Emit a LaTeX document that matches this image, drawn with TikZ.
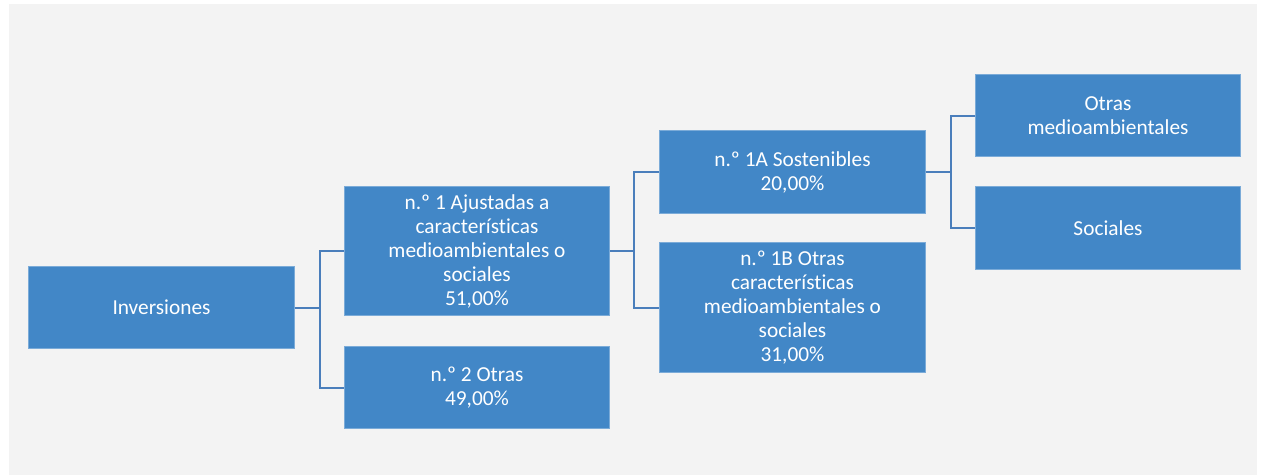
\documentclass[tikz,border=0pt]{standalone}
\usepackage{fontspec}
\setmainfont{Carlito}[Ligatures=NoCommon]

\definecolor{boxblue}{HTML}{4287C7}
\definecolor{lineblue}{HTML}{4A7EBB}
\definecolor{backgray}{HTML}{F3F3F3}

\tikzset{
  catbox/.style={rectangle, fill=boxblue, draw=boxblue!70!white, line width=0.6pt,
    text=white, align=center, font=\fontsize{16}{18}\selectfont,
    inner sep=0pt, minimum width=199pt},
  shortbox/.style={catbox, minimum height=62pt},
  tallbox/.style={catbox, minimum height=97pt},
  branch/.style={draw=lineblue, line width=1.5pt}
}

\begin{document}
\begin{tikzpicture}[x=0.75pt, y=-0.75pt]
  % Background
  \useasboundingbox (0,0) rectangle (1261,475);
  \fill[backgray] (9,4) rectangle (1257,475);

  % Boxes
  \node[shortbox] (inv) at (161.5,307.5) {Inversiones};
  \node[tallbox] (adj) at (477,251) {n.º 1 Ajustadas a\\características\\medioambientales o\\sociales\\51,00\%};
  \node[shortbox] (otr) at (477,387.5) {n.º 2 Otras\\49,00\%};
  \node[shortbox] (sost) at (792.5,172) {n.º 1A Sostenibles\\20,00\%};
  \node[tallbox] (caract) at (792.5,307.5) {n.º 1B Otras\\características\\medioambientales o\\sociales\\31,00\%};
  \node[shortbox] (medio) at (1108,115.5) {Otras\\medioambientales};
  \node[shortbox] (soc) at (1108,228) {Sociales};

  % Connectors
  \draw[branch] (inv.east) -- ++(25,0) |- (adj.west);
  \draw[branch] (inv.east) -- ++(25,0) |- (otr.west);
  \draw[branch] (adj.east) -- ++(24,0) |- (sost.west);
  \draw[branch] (adj.east) -- ++(24,0) |- (caract.west);
  \draw[branch] (sost.east) -- ++(25,0) |- (medio.west);
  \draw[branch] (sost.east) -- ++(25,0) |- (soc.west);
\end{tikzpicture}
\end{document}
